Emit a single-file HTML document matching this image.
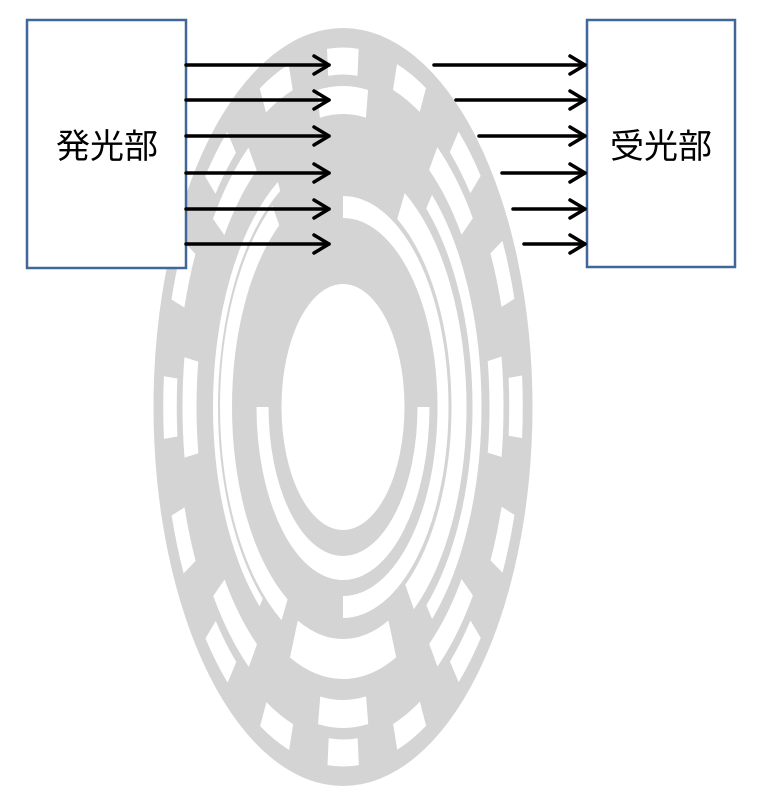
<!DOCTYPE html>
<html><head><meta charset="utf-8"><style>
html,body{margin:0;padding:0;background:#fff;}
svg{display:block}
</style></head><body>
<svg width="768" height="810" viewBox="0 0 768 810" xmlns="http://www.w3.org/2000/svg">
<g transform="translate(343,407) scale(0.5,1)">
  <circle r="379" fill="#d4d4d4"/>
  <circle r="123" fill="#fff"/>
  <g fill="none" stroke="#fff" transform="rotate(-90)">
    <circle r="346" stroke-width="27" pathLength="360" stroke-dasharray="10 12.5" stroke-dashoffset="5"/>
    <circle r="307" stroke-width="28" pathLength="360" stroke-dasharray="18 27" stroke-dashoffset="9"/>
    <circle r="268" stroke-width="18" pathLength="360" stroke-dasharray="100 400" stroke-dashoffset="-40"/>
    <circle r="255" stroke-width="10" pathLength="360" stroke-dasharray="110 400" stroke-dashoffset="-220"/>
    <circle r="234" stroke-width="24" pathLength="360" stroke-dasharray="115 400" stroke-dashoffset="-210"/>
    <circle r="232" stroke-width="30" pathLength="360" stroke-dasharray="115 400" stroke-dashoffset="-30"/>
    <circle r="252" stroke-width="40" pathLength="360" stroke-dasharray="46 400" stroke-dashoffset="-157"/>
    <circle r="200" stroke-width="22" pathLength="360" stroke-dasharray="180 400" stroke-dashoffset="0"/>
    <circle r="161" stroke-width="24" pathLength="360" stroke-dasharray="180 400" stroke-dashoffset="-90"/>
  </g>
</g>
<rect x="27" y="20" width="159" height="248" fill="#fff" stroke="#41679a" stroke-width="2.5"/>
<rect x="587" y="20" width="148" height="247" fill="#fff" stroke="#41679a" stroke-width="2.5"/>
<text x="107" y="158" font-family="Liberation Sans, Noto Sans CJK JP, sans-serif" font-size="34" text-anchor="middle">発光部</text>
<text x="661" y="158" font-family="Liberation Sans, Noto Sans CJK JP, sans-serif" font-size="34" text-anchor="middle">受光部</text>
<g stroke="#000" stroke-width="3.5" fill="none" stroke-linecap="round" stroke-linejoin="round">
  <line x1="186" y1="65" x2="329" y2="65"/><polyline points="314,56 329,65 314,74"/>
  <line x1="186" y1="100" x2="329" y2="100"/><polyline points="314,91 329,100 314,109"/>
  <line x1="186" y1="136" x2="329" y2="136"/><polyline points="314,127 329,136 314,145"/>
  <line x1="186" y1="173" x2="329" y2="173"/><polyline points="314,164 329,173 314,182"/>
  <line x1="186" y1="209" x2="329" y2="209"/><polyline points="314,200 329,209 314,218"/>
  <line x1="186" y1="244" x2="329" y2="244"/><polyline points="314,235 329,244 314,253"/>
  <line x1="434" y1="65" x2="585" y2="65"/><polyline points="570,56 585,65 570,74"/>
  <line x1="456" y1="100" x2="585" y2="100"/><polyline points="570,91 585,100 570,109"/>
  <line x1="479" y1="136" x2="585" y2="136"/><polyline points="570,127 585,136 570,145"/>
  <line x1="502" y1="173" x2="585" y2="173"/><polyline points="570,164 585,173 570,182"/>
  <line x1="513" y1="209" x2="585" y2="209"/><polyline points="570,200 585,209 570,218"/>
  <line x1="524" y1="244" x2="585" y2="244"/><polyline points="570,235 585,244 570,253"/>
</g>
</svg>
</body></html>
